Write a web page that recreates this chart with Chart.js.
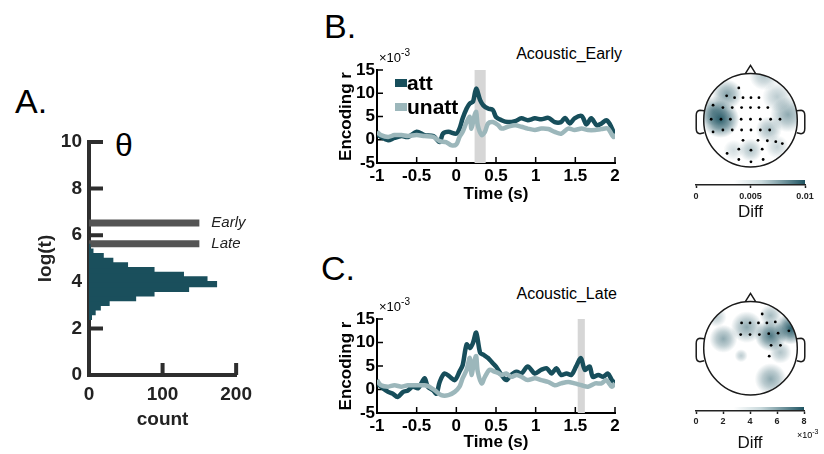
<!DOCTYPE html>
<html>
<head>
<meta charset="utf-8">
<script src="https://cdn.jsdelivr.net/npm/chart.js@4.4.0/dist/chart.umd.min.js"></script>
<style>
  body { margin: 0; background: #fff; }
  #fig { position: relative; width: 824px; height: 454px; overflow: hidden; font-family: "Liberation Sans", Arial, sans-serif; }
  #fig canvas { position: absolute; }
  .txt { position: absolute; line-height: 1; white-space: nowrap; color: #000; }
</style>
</head>
<body>
<div id="fig">
  <div class="txt" style="left:15px;top:84px;font-size:34px">A.</div>
  <div class="txt" style="left:324px;top:9px;font-size:34px">B.</div>
  <div class="txt" style="left:321px;top:251px;font-size:34px">C.</div>
  <div class="txt" style="left:115px;top:129px;font-size:32px">θ</div>
  <div class="txt" style="right:202px;top:46px;font-size:16px">Acoustic_Early</div>
  <div class="txt" style="right:207px;top:286px;font-size:16px">Acoustic_Late</div>

  <canvas id="histA" width="260" height="330" style="left:0;top:120px"></canvas>
  <canvas id="lineB" width="310" height="170" style="left:320px;top:40px"></canvas>
  <canvas id="lineC" width="310" height="174" style="left:320px;top:280px"></canvas>
  <canvas id="topoB" width="117" height="114" style="left:692px;top:57px"></canvas>
  <canvas id="topoC" width="117" height="114" style="left:692px;top:285px"></canvas>
  <canvas id="barB" width="130" height="53" style="left:690px;top:170px"></canvas>
  <canvas id="barC" width="134" height="56" style="left:690px;top:398px"></canvas>
</div>
<script>
// ---- panel A: histogram of log(t) ----
const histBinCenters = [2.5, 2.7, 2.9, 3.1, 3.3, 3.5, 3.7, 3.9, 4.1, 4.3, 4.5, 4.7, 4.9, 5.1, 5.3, 5.5];
const histCounts = [3, 8, 15, 27, 63, 88, 135, 173, 160, 128, 88, 52, 32, 19, 5, 1];
const windowNames = ['Early', 'Late'];
const windowLogT = [6.52, 5.63];
const windowCounts = [150, 150];

// ---- panels B / C: encoding r (x10^-3) over time, [time s, value] ----
const earlyAtt = [[-1,1.3],[-0.95,0.6],[-0.86,-0.1],[-0.78,0.4],[-0.69,0.8],[-0.61,0.6],[-0.5,1.7],[-0.4,1.0],[-0.29,0.8],[-0.21,-0.5],[-0.17,1.3],[-0.1,1.7],[0,1.3],[0.04,2.4],[0.08,4.6],[0.13,6.7],[0.17,7.8],[0.21,8.2],[0.25,11],[0.3,8.5],[0.34,7.4],[0.4,6.7],[0.46,6.4],[0.5,4.9],[0.57,4.2],[0.65,3.8],[0.74,4.0],[0.82,4.6],[0.9,4.2],[0.99,4.6],[1.07,4.4],[1.16,4.7],[1.24,3.8],[1.32,3.8],[1.37,4.7],[1.43,3.5],[1.49,4.6],[1.58,5.1],[1.64,3.3],[1.7,4.6],[1.77,3.1],[1.83,3.5],[1.89,4.2],[1.93,3.5],[2,1.0]];
const earlyUnatt = [[-1,1.7],[-0.95,1.0],[-0.86,0.6],[-0.78,1.0],[-0.69,1.0],[-0.61,0.8],[-0.5,1.0],[-0.4,0.8],[-0.29,0.6],[-0.21,-0.3],[-0.13,-0.5],[-0.06,-1.2],[0,-1.0],[0.04,0.6],[0.08,1.7],[0.13,3.8],[0.17,4.9],[0.19,2.4],[0.23,5.3],[0.25,6.0],[0.27,3.1],[0.32,1.0],[0.36,1.7],[0.4,3.5],[0.46,3.8],[0.53,3.1],[0.57,2.4],[0.65,2.8],[0.74,3.1],[0.82,2.8],[0.9,2.4],[0.99,2.1],[1.07,2.4],[1.16,2.3],[1.24,1.7],[1.32,1.3],[1.41,2.4],[1.49,2.1],[1.58,2.4],[1.66,2.1],[1.75,2.1],[1.83,2.3],[1.91,2.4],[1.98,0.6],[2,1.3]];
const lateAtt = [[-1,1.3],[-0.95,0.6],[-0.86,-0.5],[-0.8,-0.9],[-0.74,-1.6],[-0.67,-0.5],[-0.61,-0.2],[-0.55,0.6],[-0.48,0.3],[-0.4,2.4],[-0.36,0.6],[-0.29,-0.2],[-0.25,-0.9],[-0.21,1.6],[-0.15,3.4],[-0.08,2.7],[-0.02,2.0],[0.04,3.8],[0.08,5.2],[0.13,9.6],[0.17,8.8],[0.21,9.9],[0.25,12.1],[0.3,7.8],[0.34,7.4],[0.4,6.7],[0.46,5.6],[0.5,4.9],[0.57,3.1],[0.63,2.0],[0.69,3.1],[0.76,3.8],[0.82,3.4],[0.9,4.9],[0.99,3.4],[1.07,4.2],[1.14,4.5],[1.2,3.4],[1.26,4.5],[1.32,3.1],[1.39,3.4],[1.45,3.1],[1.51,4.9],[1.57,6.7],[1.62,4.2],[1.68,4.9],[1.72,2.7],[1.79,3.1],[1.85,2.7],[1.91,3.4],[1.96,2.0],[2,1.3]];
const lateUnatt = [[-1,2.0],[-0.95,0.9],[-0.86,0.6],[-0.78,0.9],[-0.69,0.6],[-0.61,0.9],[-0.5,0.9],[-0.4,0.9],[-0.34,0.6],[-0.27,-0.2],[-0.19,-1.2],[-0.1,-1.2],[-0.02,-0.5],[0.04,0.6],[0.08,2.4],[0.13,4.2],[0.17,6.7],[0.19,3.1],[0.23,6.3],[0.25,7.1],[0.27,3.8],[0.32,1.3],[0.36,2.7],[0.42,4.2],[0.48,3.8],[0.53,3.5],[0.57,3.1],[0.63,3.4],[0.69,2.7],[0.76,3.1],[0.82,2.7],[0.9,2.0],[0.99,2.4],[1.07,2.0],[1.16,1.6],[1.24,0.9],[1.32,1.3],[1.41,1.6],[1.49,1.3],[1.58,0.9],[1.66,0.6],[1.75,1.3],[1.83,1.3],[1.89,2.0],[1.96,0.6],[2,1.3]];
const earlyWindow = [0.23, 0.37];
const lateWindow = [1.53, 1.62];

// ---- topographies: electrode positions and difference blobs [u, v, radius, strength] ----
const earlyDots = [[-0.25,0.69],[-0.51,0.52],[-0.34,0.48],[-0.16,0.48],[0.01,0.48],[0.18,0.48],
  [-0.8,0.32],[-0.59,0.27],[-0.39,0.27],[-0.19,0.27],[0,0.27],[0.18,0.27],[0.37,0.27],
  [-0.84,0.02],[-0.63,0.02],[-0.43,0.02],[-0.2,0.02],[0,0.02],[0.21,0.02],[0.43,0.02],[0.63,0.02],
  [-0.8,-0.25],[-0.59,-0.21],[-0.39,-0.21],[-0.19,-0.21],[0.01,-0.21],[0.21,-0.21],[0.41,-0.21],
  [-0.16,-0.43],[0.16,-0.43],[0.36,-0.44],[0.54,-0.46],[0.68,-0.5],
  [-0.5,-0.71],[-0.25,-0.62],[0.01,-0.64],[0.25,-0.62],
  [-0.25,-0.84],[0.01,-0.89],[0.27,-0.84]];
const earlyBlobs = [[-0.64,0.02,0.4,0.95],[-0.5,0.55,0.32,0.55],[-0.8,0.2,0.32,0.5],[0.29,0.96,0.32,0.35],
  [0.8,0.12,0.38,0.5],[0.57,0.5,0.32,0.3],[0.39,-0.2,0.28,0.4],[0,-0.64,0.25,0.35],[0.57,-0.57,0.25,0.25],[-0.36,-0.64,0.22,0.2]];
const lateDots = [[0.25,0.73],[-0.19,0.54],[-0.01,0.54],[0.17,0.54],[0.35,0.54],[0.53,0.56],
  [-0.21,0.29],[-0.01,0.29],[0.19,0.29],[0.39,0.31],[0.59,0.32],[0.82,0.37],
  [0.44,0.06],[0.64,0.06],[0.4,-0.17]];
const lateBlobs = [[0.86,0.42,0.34,0.95],[0.43,0.27,0.34,0.8],[-0.08,0.45,0.34,0.5],[-0.58,0.2,0.3,0.5],
  [-0.73,0.67,0.22,0.3],[0.43,0.7,0.24,0.4],[-0.2,-0.16,0.14,0.3],[0.43,-0.66,0.34,0.5],[0.64,-0.09,0.24,0.35]];

const earlyBarTicks = [0, 0.01, 0.005];
const lateBarTicks = [0, 8, 2];

const FONT = "'Liberation Sans', Arial, sans-serif";
const tealHist = '#1a4f5c';
const attColor = '#174e5b';
const unattColor = '#9cb7bb';
const topoRGB = '31,84,98';
const plainNum = v => String(+v.toFixed(6));

// ticks drawn inward from the axis lines
const inwardTicks = {
  id: 'inTicks',
  beforeDatasetsDraw(chart, args, o) {
    const {ctx, chartArea} = chart;
    const xs = chart.scales.x, ys = chart.scales.y;
    ctx.save();
    ctx.strokeStyle = o.color;
    ctx.lineWidth = o.width;
    ctx.beginPath();
    ys.ticks.forEach(t => {
      if (t.value === ys.min) return;
      const py = ys.getPixelForValue(t.value);
      ctx.moveTo(chartArea.left, py);
      ctx.lineTo(chartArea.left + o.ylen, py);
    });
    xs.ticks.forEach(t => {
      if (t.value === xs.min) return;
      const px = xs.getPixelForValue(t.value);
      ctx.moveTo(px, chartArea.bottom);
      ctx.lineTo(px, chartArea.bottom - o.xlen);
    });
    ctx.stroke();
    ctx.restore();
  }
};

const windowLabels = {
  id: 'windowLabels',
  afterDatasetsDraw(chart) {
    const ctx = chart.ctx;
    ctx.save();
    ctx.font = 'italic 15px ' + FONT;
    ctx.fillStyle = '#222';
    ctx.textBaseline = 'alphabetic';
    chart.getDatasetMeta(1).data.forEach((bar, i) => {
      ctx.fillText(windowNames[i], bar.x + 12, bar.y + 4);
    });
    ctx.restore();
  }
};

const shadeWindow = {
  id: 'shade',
  beforeDatasetsDraw(chart, args, o) {
    const {ctx, chartArea} = chart;
    const xs = chart.scales.x;
    const x0 = xs.getPixelForValue(o.range[0]), x1 = xs.getPixelForValue(o.range[1]);
    ctx.save();
    ctx.fillStyle = '#d6d6d6';
    ctx.fillRect(x0, chartArea.top, x1 - x0, chartArea.bottom - chartArea.top);
    ctx.restore();
  }
};

function drawSci(ctx, x, y, big, small) {
  ctx.font = big + 'px ' + FONT;
  ctx.textBaseline = 'alphabetic';
  ctx.fillText('×10', x, y);
  const w = ctx.measureText('×10').width;
  ctx.font = small + 'px ' + FONT;
  ctx.fillText('-3', x + w, y - big * 0.45);
}

const sciLabel = {
  id: 'sci',
  afterDraw(chart, args, o) {
    const {ctx, chartArea} = chart;
    ctx.save();
    ctx.fillStyle = '#000';
    drawSci(ctx, chartArea.left + o.dx, chartArea.top + o.dy, o.big, o.small);
    ctx.restore();
  }
};

const insetLegend = {
  id: 'insetLegend',
  afterDatasetsDraw(chart, args, o) {
    if (!o.display) return;
    const {ctx, chartArea} = chart;
    ctx.save();
    ctx.font = 'bold 21px ' + FONT;
    ctx.textBaseline = 'middle';
    chart.data.datasets.forEach((ds, i) => {
      const y = chartArea.top + 13 + i * 24;
      ctx.fillStyle = ds.borderColor;
      ctx.fillRect(chartArea.left + 18, y - 4, 12, 8);
      ctx.fillStyle = '#000';
      ctx.fillText(ds.label, chartArea.left + 30, y + 1);
    });
    ctx.restore();
  }
};

const headPlot = {
  id: 'head',
  beforeDatasetsDraw(chart, args, o) {
    const ctx = chart.ctx;
    const xs = chart.scales.x, ys = chart.scales.y;
    const P = (u, v) => [xs.getPixelForValue(u), ys.getPixelForValue(v)];
    const [cx, cy] = P(0, 0);
    const r = xs.getPixelForValue(1) - cx;
    ctx.save();
    ctx.beginPath();
    ctx.arc(cx, cy, r, 0, Math.PI * 2);
    ctx.clip();
    o.blobs.forEach(([u, v, rad, a]) => {
      const [px, py] = P(u, v);
      const pr = rad * r;
      const g = ctx.createRadialGradient(px, py, 0, px, py, pr);
      g.addColorStop(0, `rgba(${topoRGB},${a})`);
      g.addColorStop(0.5, `rgba(${topoRGB},${a * 0.6})`);
      g.addColorStop(1, `rgba(${topoRGB},0)`);
      ctx.fillStyle = g;
      ctx.fillRect(px - pr, py - pr, 2 * pr, 2 * pr);
    });
    ctx.restore();

    ctx.save();
    ctx.strokeStyle = '#1a1a1a';
    ctx.lineWidth = 1.5;
    ctx.beginPath();
    ctx.arc(cx, cy, r, 0, Math.PI * 2);
    ctx.stroke();
    ctx.beginPath();
    ctx.moveTo(...P(-0.11, 0.994));
    ctx.lineTo(...P(0, 1.17));
    ctx.lineTo(...P(0.11, 0.994));
    ctx.stroke();
    [-1, 1].forEach(s => {
      ctx.beginPath();
      ctx.moveTo(...P(s * 0.99, 0.2));
      ctx.lineTo(...P(s * 1.08, 0.21));
      ctx.quadraticCurveTo(...P(s * 1.16, 0.2), ...P(s * 1.16, 0.1));
      ctx.lineTo(...P(s * 1.16, -0.18));
      ctx.quadraticCurveTo(...P(s * 1.16, -0.29), ...P(s * 1.08, -0.29));
      ctx.lineTo(...P(s * 0.99, -0.27));
      ctx.stroke();
    });
    ctx.restore();
  }
};

const barGradient = {
  id: 'barGradient',
  beforeDraw(chart, args, o) {
    const {ctx, chartArea: a} = chart;
    const g = ctx.createLinearGradient(a.left, 0, a.right, 0);
    g.addColorStop(0, '#ffffff');
    g.addColorStop(0.35, '#ffffff');
    g.addColorStop(0.6, '#c9d9dc');
    g.addColorStop(1, '#1f5462');
    ctx.save();
    ctx.fillStyle = g;
    ctx.fillRect(a.left, a.top, a.right - a.left, a.bottom - a.top);
    if (o.sci) {
      ctx.fillStyle = '#000';
      drawSci(ctx, a.right - 7, a.bottom + 27, 9, 7);
    }
    ctx.restore();
  }
};

const base = { responsive: false, animation: false, events: [], devicePixelRatio: 1 };
const bold = size => ({ family: FONT, size: size, weight: 'bold' });

// ---- A ----
new Chart(document.getElementById('histA'), {
  type: 'bar',
  data: {
    datasets: [
      {
        label: 'θ',
        data: histBinCenters.map((c, i) => ({ x: histCounts[i], y: c })),
        backgroundColor: tealHist,
        borderWidth: 0,
        inflateAmount: 0.8,
        barPercentage: 1,
        categoryPercentage: 1,
        grouped: false,
        yAxisID: 'y'
      },
      {
        label: 'windows',
        data: windowLogT.map((w, i) => ({ x: windowCounts[i], y: w })),
        backgroundColor: '#545454',
        borderWidth: 0,
        inflateAmount: 0,
        barThickness: 7,
        grouped: false,
        yAxisID: 'y2'
      }
    ]
  },
  options: {
    ...base,
    indexAxis: 'y',
    layout: { padding: { top: 22, right: 21, left: 0, bottom: 0 }, autoPadding: false },
    scales: {
      x: {
        type: 'linear', min: 0, max: 200,
        ticks: { stepSize: 100, font: bold(19), color: '#222', padding: 8 },
        grid: { display: false, drawTicks: false },
        border: { display: true, width: 4, color: '#2e2e2e' },
        title: { display: true, text: 'count', font: bold(19), color: '#222', padding: { top: 0, bottom: 19 } },
        afterFit: s => { s.height = 75; }
      },
      y: {
        type: 'linear', min: 0, max: 10, offset: false, z: 1,
        ticks: { stepSize: 2, autoSkip: false, font: bold(19), color: '#222', padding: 7 },
        grid: { display: false, drawTicks: false, offset: false },
        border: { display: true, width: 4, color: '#2e2e2e' },
        title: { display: true, text: 'log(t)', font: bold(19), color: '#222', padding: { top: 34, bottom: 0 } },
        afterFit: s => { s.width = 89; }
      },
      y2: { type: 'linear', min: 0, max: 10, offset: false, display: false, grid: { offset: false } }
    },
    plugins: {
      legend: { display: false },
      tooltip: { enabled: false },
      inTicks: { color: '#2e2e2e', width: 4, ylen: 14, xlen: 12 }
    }
  },
  plugins: [inwardTicks, windowLabels]
});

// ---- B / C ----
function encodingPanel(id, att, unatt, win, o) {
  return new Chart(document.getElementById(id), {
    type: 'line',
    data: {
      datasets: [
        { label: 'att', data: att.map(([t, r]) => ({ x: t, y: r })), borderColor: attColor, borderWidth: 4.5, pointRadius: 0, tension: 0.3, order: 2 },
        { label: 'unatt', data: unatt.map(([t, r]) => ({ x: t, y: r })), borderColor: unattColor, borderWidth: 4.5, pointRadius: 0, tension: 0.3, order: 1 }
      ]
    },
    options: {
      ...base,
      layout: { padding: { top: o.top, right: 15, left: 0, bottom: 0 }, autoPadding: false },
      scales: {
        x: {
          type: 'linear', min: -1, max: 2,
          ticks: { stepSize: 0.5, autoSkip: false, maxRotation: 0, font: bold(17), color: '#000', padding: 3.5, callback: plainNum },
          grid: { display: false, drawTicks: false },
          border: { display: true, width: 2, color: '#000' },
          title: { display: true, text: 'Time (s)', font: bold(17), color: '#000', padding: { top: 0, bottom: o.pb } },
          afterFit: s => { s.height = o.xh; }
        },
        y: {
          type: 'linear', min: -5, max: 15,
          ticks: { stepSize: 5, autoSkip: false, font: bold(17), color: '#000', padding: 2, callback: plainNum },
          grid: { display: false, drawTicks: false },
          border: { display: true, width: 2, color: '#000' },
          title: { display: true, text: 'Encoding r', font: bold(17), color: '#000', padding: { top: 16.5, bottom: 0 } },
          afterFit: s => { s.width = 57; }
        }
      },
      plugins: {
        legend: { display: false },
        tooltip: { enabled: false },
        inTicks: { color: '#000', width: 1.5, ylen: 6, xlen: 6 },
        shade: { range: win },
        sci: { dx: 2, dy: -8, big: 13, small: 10 },
        insetLegend: { display: o.legend }
      }
    },
    plugins: [inwardTicks, shadeWindow, sciLabel, insetLegend]
  });
}

encodingPanel('lineB', earlyAtt, earlyUnatt, earlyWindow, { top: 30, xh: 47, pb: 5, legend: true });
encodingPanel('lineC', lateAtt, lateUnatt, lateWindow, { top: 39, xh: 41, pb: 1, legend: false });

// ---- topographies ----
function topo(id, dots, blobs) {
  return new Chart(document.getElementById(id), {
    type: 'scatter',
    data: { datasets: [{ data: dots.map(([u, v]) => ({ x: u, y: v })), pointRadius: 1.4, pointBorderWidth: 0, pointBackgroundColor: '#000' }] },
    options: {
      ...base,
      layout: { padding: 0, autoPadding: false },
      scales: {
        x: { type: 'linear', min: -1.25, max: 1.25, display: false },
        y: { type: 'linear', min: -1.086, max: 1.35, display: false }
      },
      plugins: { legend: { display: false }, tooltip: { enabled: false }, head: { blobs: blobs } }
    },
    plugins: [headPlot]
  });
}
topo('topoB', earlyDots, earlyBlobs);
topo('topoC', lateDots, lateBlobs);

function colorbar(id, ticks, o) {
  const [lo, hi, step] = ticks;
  return new Chart(document.getElementById(id), {
    type: 'scatter',
    data: { datasets: [] },
    options: {
      ...base,
      layout: { padding: { top: o.top, left: 6, right: o.right, bottom: 0 }, autoPadding: false },
      scales: {
        x: {
          type: 'linear', min: lo, max: hi,
          ticks: { stepSize: step, autoSkip: false, maxRotation: 0, font: bold(9), color: '#222', padding: o.pad, callback: plainNum },
          grid: { display: true, drawOnChartArea: false, drawTicks: true, tickLength: 3, tickWidth: 1.5, tickColor: '#222' },
          border: { display: true, width: 1.5, color: '#222' },
          title: { display: true, text: 'Diff', font: { family: FONT, size: 17 }, color: '#111', padding: { top: 0, bottom: 0 } },
          afterFit: s => { s.height = o.xh; }
        },
        y: { type: 'linear', min: 0, max: 1, display: false }
      },
      plugins: { legend: { display: false }, tooltip: { enabled: false }, barGradient: { sci: o.sci } }
    },
    plugins: [barGradient]
  });
}
colorbar('barB', earlyBarTicks, { top: 10, right: 15, xh: 38, pad: 3.3, sci: false });
colorbar('barC', lateBarTicks, { top: 9, right: 20, xh: 43, pad: 2.3, sci: true });
</script>
</body>
</html>
